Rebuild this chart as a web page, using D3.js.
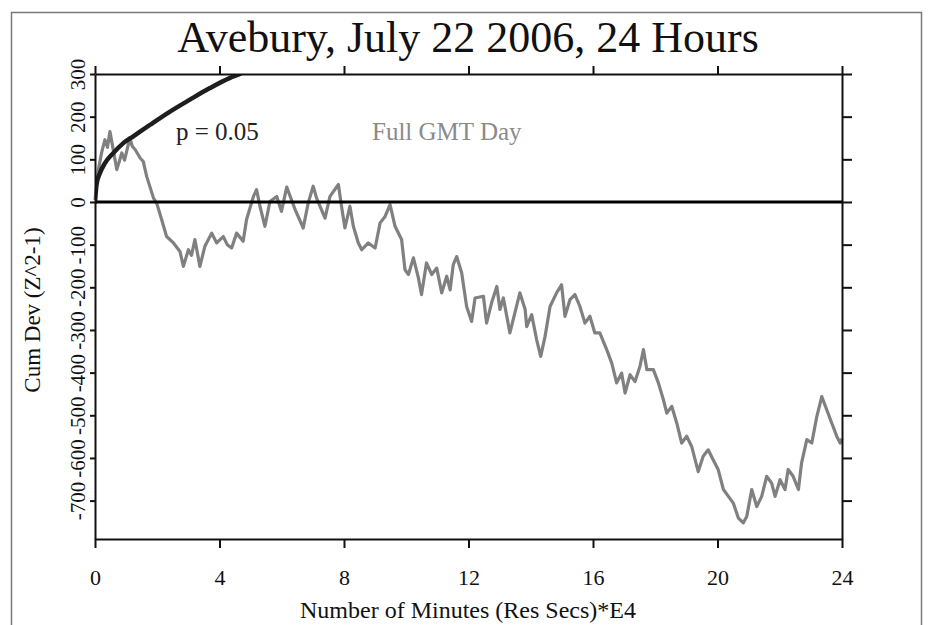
<!DOCTYPE html>
<html>
<head>
<meta charset="utf-8">
<script src="https://cdn.jsdelivr.net/npm/d3@7"></script>
<style>
  html, body { margin: 0; padding: 0; background: #ffffff; }
  svg text { font-family: "Liberation Serif", "Times New Roman", Times, "DejaVu Serif", serif; }
</style>
</head>
<body>
<svg id="chart" width="928" height="625"></svg>
<script>
// Cumulative deviation of (Z^2 - 1), sampled along the day (x in units of 1e4 seconds)
const minutes = [
  0.00, 0.11, 0.21, 0.32, 0.40, 0.48, 0.58, 0.70, 0.78, 0.86, 0.95, 1.12, 1.20, 1.29, 1.45, 1.55,
  1.66, 1.88, 1.98, 2.14, 2.30, 2.52, 2.73, 2.84, 3.00, 3.10, 3.21, 3.37, 3.53, 3.75, 3.91, 4.12,
  4.25, 4.39, 4.55, 4.76, 4.87, 5.09, 5.19, 5.30, 5.46, 5.62, 5.84, 5.99, 6.16, 6.43, 6.69, 6.85,
  7.01, 7.12, 7.39, 7.55, 7.82, 7.92, 8.03, 8.19, 8.30, 8.46, 8.57, 8.78, 9.00, 9.16, 9.32, 9.48,
  9.64, 9.85, 9.96, 10.07, 10.23, 10.39, 10.49, 10.65, 10.82, 10.98, 11.14, 11.30, 11.41, 11.51,
  11.62, 11.78, 11.94, 12.10, 12.21, 12.48, 12.58, 12.74, 12.91, 13.01, 13.12, 13.33, 13.49, 13.65,
  13.82, 13.87, 14.03, 14.19, 14.32, 14.46, 14.62, 14.83, 14.99, 15.10, 15.26, 15.42, 15.58, 15.74,
  15.90, 16.06, 16.22, 16.44, 16.60, 16.76, 16.92, 17.03, 17.19, 17.35, 17.51, 17.62, 17.73, 17.94,
  18.10, 18.26, 18.37, 18.53, 18.69, 18.85, 19.01, 19.17, 19.38, 19.54, 19.70, 19.86, 20.02, 20.19,
  20.35, 20.51, 20.67, 20.83, 20.94, 21.10, 21.26, 21.42, 21.58, 21.74, 21.85, 22.01, 22.17, 22.27,
  22.43, 22.60, 22.70, 22.87, 23.03, 23.19, 23.35, 23.51, 23.67, 23.83, 23.94, 24.00
];
const cumDev = [
  5, 76, 115, 146, 128, 165, 125, 76, 95, 115, 98, 150, 130, 123, 103, 95,
  60, 9, -2, -41, -81, -96, -116, -151, -112, -125, -88, -151, -104, -73, -96, -81,
  -100, -108, -73, -92, -41, 13, 29, -10, -57, 1, 13, -22, 35, -18, -61, -2,
  37, 9, -38, 13, 41, -10, -61, -10, -57, -96, -112, -96, -108, -49, -34, -6,
  -57, -88, -159, -170, -131, -178, -217, -143, -170, -155, -213, -174, -206, -147,
  -128, -166, -245, -280, -225, -221, -284, -237, -198, -252, -225, -307, -260, -213,
  -252, -292, -264, -323, -362, -315, -245, -213, -194, -268, -229, -217, -245, -284,
  -268, -307, -307, -346, -377, -424, -401, -448, -405, -421, -385, -346, -393, -393,
  -424, -463, -495, -479, -518, -565, -549, -573, -632, -596, -581, -604, -627, -674,
  -690, -706, -741, -752, -737, -674, -714, -690, -643, -659, -690, -651, -674, -627,
  -643, -674, -612, -557, -565, -503, -456, -487, -518, -549, -565, -555
];

// p = 0.05 significance envelope
const envX = [0, 0.05, 0.16, 0.32, 0.59, 0.91, 1.23, 1.77, 2.41, 3.05, 3.69, 4.34, 4.66];
const envY = [0, 41, 68, 91, 115, 138, 154, 181, 212, 240, 267, 291, 300];

const xTicks = [0, 4, 8, 12, 16, 20, 24];
const yTicks = [-700, -600, -500, -400, -300, -200, -100, 0, 100, 200, 300];

const titleText = "Avebury, July 22 2006, 24 Hours";
const xLabel = "Number of Minutes (Res Secs)*E4";
const yLabel = "Cum Dev (Z^2-1)";
const pLabel = "p = 0.05";
const dayLabel = "Full GMT Day";

const SERIF = "'Liberation Serif', 'Times New Roman', Times, 'DejaVu Serif', serif";

const svg = d3.select("#chart");

const x = d3.scaleLinear().domain([0, 24]).range([95, 842]);
const y = d3.scaleLinear().domain([-790, 300]).range([539, 74]);

// outer frame
svg.append("rect")
  .attr("x", 11.5).attr("y", 12.5)
  .attr("width", 910).attr("height", 640)
  .attr("fill", "#ffffff")
  .attr("stroke", "#7a7a7a").attr("stroke-width", 1.5);

// title
svg.append("text")
  .attr("x", 468).attr("y", 52)
  .attr("text-anchor", "middle")
  .attr("font-family", SERIF)
  .attr("font-size", 44)
  .attr("fill", "#111")
  .text(titleText);

const plot = svg.append("g");

// clip for the envelope curve
svg.append("clipPath").attr("id", "plotClip")
  .append("rect").attr("x", 95).attr("y", 74).attr("width", 747).attr("height", 465);

// data line
const line = d3.line().x(d => x(d[0])).y(d => y(d[1]));
plot.append("path")
  .datum(minutes.map((m, i) => [m, cumDev[i]]))
  .attr("d", line)
  .attr("fill", "none")
  .attr("stroke", "#808080")
  .attr("stroke-width", 3.2)
  .attr("stroke-linejoin", "round");

// significance envelope
plot.append("path")
  .datum(envX.map((m, i) => [m, envY[i]]))
  .attr("d", d3.line().x(d => x(d[0])).y(d => y(d[1])).curve(d3.curveMonotoneX))
  .attr("clip-path", "url(#plotClip)")
  .attr("fill", "none")
  .attr("stroke", "#1e1e1e")
  .attr("stroke-width", 4.5)
  .attr("stroke-linecap", "round");

// zero line
plot.append("line")
  .attr("x1", x(0)).attr("x2", x(24))
  .attr("y1", y(0)).attr("y2", y(0))
  .attr("stroke", "#000").attr("stroke-width", 3);

function styleAxis(g) {
  g.attr("font-family", SERIF);
  g.selectAll("path, line").attr("stroke", "#111").attr("stroke-width", 2);
  g.selectAll("text").attr("fill", "#111").attr("font-family", SERIF);
}

// bottom axis
svg.append("g")
  .attr("transform", `translate(0,${y(-790)})`)
  .call(d3.axisBottom(x).tickValues(xTicks).tickSize(9).tickSizeOuter(0).tickPadding(21))
  .call(styleAxis)
  .call(g => g.selectAll("text").attr("font-size", 22));

// top axis
svg.append("g")
  .attr("transform", `translate(0,${y(300)})`)
  .call(d3.axisTop(x).tickValues(xTicks).tickSize(8).tickSizeOuter(0).tickFormat(""))
  .call(styleAxis);

// right axis
svg.append("g")
  .attr("transform", `translate(${x(24)},0)`)
  .call(d3.axisRight(y).tickValues(yTicks).tickSize(10).tickSizeOuter(0).tickFormat(""))
  .call(styleAxis);

// left axis with rotated labels
svg.append("g")
  .attr("transform", `translate(${x(0)},0)`)
  .call(d3.axisLeft(y).tickValues(yTicks).tickSize(5).tickSizeOuter(0).tickFormat(d => String(d)))
  .call(styleAxis)
  .call(g => g.selectAll(".tick text")
    .attr("x", null).attr("dy", null)
    .attr("transform", "translate(-10,0) rotate(-90)")
    .attr("text-anchor", "middle")
    .attr("font-size", 21));

// axis titles
svg.append("text")
  .attr("x", 468).attr("y", 618)
  .attr("text-anchor", "middle")
  .attr("font-family", SERIF)
  .attr("font-size", 24)
  .attr("fill", "#111")
  .text(xLabel);

svg.append("text")
  .attr("transform", "translate(40,310) rotate(-90)")
  .attr("text-anchor", "middle")
  .attr("font-family", SERIF)
  .attr("font-size", 23)
  .attr("fill", "#111")
  .text(yLabel);

// annotations
svg.append("text")
  .attr("x", 176).attr("y", 140)
  .attr("font-family", SERIF)
  .attr("font-size", 25)
  .attr("fill", "#222")
  .text(pLabel);

svg.append("text")
  .attr("x", 372).attr("y", 140)
  .attr("font-family", SERIF)
  .attr("font-size", 25)
  .attr("fill", "#8a8a8a")
  .text(dayLabel);
</script>
</body>
</html>
